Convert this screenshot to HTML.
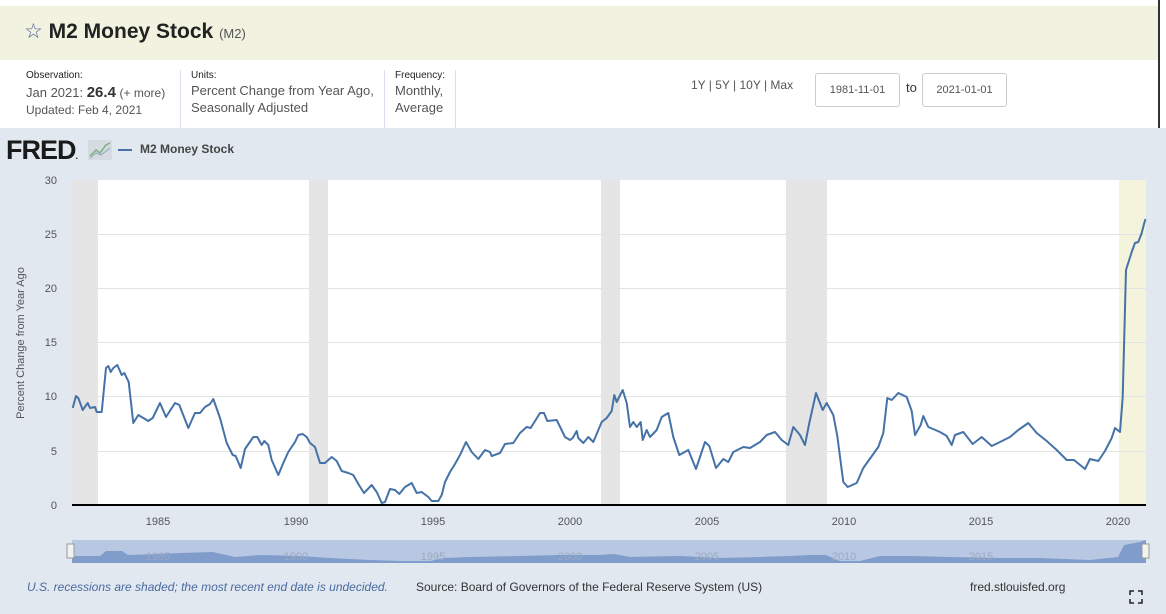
<!DOCTYPE html>
<html><head><meta charset="utf-8"><style>
body{margin:0;width:1166px;height:614px;overflow:hidden;font-family:"Liberation Sans",sans-serif;background:#fff;position:relative}
.a{position:absolute}
</style></head><body>
<div class="a" style="left:0;top:6px;width:1158px;height:54px;background:#f1f2df"></div>
<div class="a" style="left:24px;top:19px;font-size:21px;color:#222"><span style="color:#4a5b9a">☆</span> <b>M2 Money Stock</b> <span style="font-size:13px;color:#555">(M2)</span></div>
<div class="a" style="left:1158px;top:0;width:2px;height:128px;background:#333"></div>
<div class="a" style="left:26px;top:70px;font-size:10px;color:#222">Observation:</div>
<div class="a" style="left:26px;top:84px;font-size:13px;color:#555">Jan 2021: <b style="font-size:15px;color:#333">26.4</b> <span style="font-size:12px">(+ more)</span></div>
<div class="a" style="left:26px;top:103px;font-size:12px;color:#555">Updated: Feb 4, 2021</div>
<div class="a" style="left:180px;top:70px;width:1px;height:58px;background:#dde"></div>
<div class="a" style="left:191px;top:70px;font-size:10px;color:#222">Units:</div>
<div class="a" style="left:191px;top:82px;font-size:13px;color:#555;line-height:17px">Percent Change from Year Ago,<br>Seasonally Adjusted</div>
<div class="a" style="left:384px;top:70px;width:1px;height:58px;background:#dde"></div>
<div class="a" style="left:395px;top:70px;font-size:10px;color:#222">Frequency:</div>
<div class="a" style="left:395px;top:82px;font-size:13px;color:#555;line-height:17px">Monthly,<br>Average</div>
<div class="a" style="left:455px;top:70px;width:1px;height:58px;background:#dde"></div>
<div class="a" style="left:691px;top:78px;font-size:12px;color:#555">1Y | 5Y | 10Y | Max</div>
<div class="a" style="left:815px;top:73px;width:83px;height:32px;border:1px solid #ccc;border-radius:3px;font-size:11px;color:#555;line-height:32px;text-align:center">1981-11-01</div>
<div class="a" style="left:906px;top:80px;font-size:13px;color:#333">to</div>
<div class="a" style="left:922px;top:73px;width:83px;height:32px;border:1px solid #ccc;border-radius:3px;font-size:11px;color:#555;line-height:32px;text-align:center">2021-01-01</div>
<div class="a" style="left:0;top:128px;width:1166px;height:486px;background:#e1e8f0"></div>
<div class="a" style="left:6px;top:135px;font-size:27px;font-weight:bold;color:#1a1a1a;letter-spacing:-1px">FRED<span style="font-size:9px">.</span></div>
<svg class="a" style="left:88px;top:140px" width="24" height="20"><rect width="24" height="20" fill="#d5dbe0"/><polyline points="2,16 8,10 12,13 18,5 22,3" fill="none" stroke="#7cb07f" stroke-width="1.5"/><polyline points="2,18 8,13 13,15 22,8" fill="none" stroke="#8ab" stroke-width="1"/></svg>
<div class="a" style="left:118px;top:149px;width:14px;height:2px;background:#4572a7"></div>
<div class="a" style="left:140px;top:142px;font-size:12px;font-weight:bold;color:#444">M2 Money Stock</div>
<svg class="a" style="left:0;top:0" width="1166" height="614">
<rect x="72" y="180" width="1074" height="325" fill="#fff"/>
<g fill="#e5e5e5"><rect x="72" y="180" width="26" height="325"/><rect x="309" y="180" width="19" height="325"/><rect x="601" y="180" width="19" height="325"/><rect x="786" y="180" width="41" height="325"/></g>
<rect x="1119" y="180" width="27" height="325" fill="#f4f4dc"/>
<g stroke="#e3e3e3" stroke-width="1"><line x1="72" x2="1146" y1="234.5" y2="234.5"/><line x1="72" x2="1146" y1="288.5" y2="288.5"/><line x1="72" x2="1146" y1="342.5" y2="342.5"/><line x1="72" x2="1146" y1="396.5" y2="396.5"/><line x1="72" x2="1146" y1="451.5" y2="451.5"/></g>
<line x1="72" x2="1146" y1="505" y2="505" stroke="#000" stroke-width="2"/>
<g font-size="11" fill="#555" text-anchor="end"><text x="57" y="184">30</text><text x="57" y="238">25</text><text x="57" y="292">20</text><text x="57" y="346">15</text><text x="57" y="400">10</text><text x="57" y="455">5</text><text x="57" y="509">0</text></g>
<g font-size="11" fill="#555" text-anchor="middle"><text x="158" y="525">1985</text><text x="296" y="525">1990</text><text x="433" y="525">1995</text><text x="570" y="525">2000</text><text x="707" y="525">2005</text><text x="844" y="525">2010</text><text x="981" y="525">2015</text><text x="1118" y="525">2020</text></g>
<text transform="translate(24,343) rotate(-90)" font-size="11" fill="#555" text-anchor="middle">Percent Change from Year Ago</text>
<polyline fill="none" stroke="#4572a7" stroke-width="2" stroke-linejoin="round" points="72.7,408 76,396 78.3,398 82.7,410 87.7,403 90,408 95,407 96.7,412 101.7,412 106,368 108.3,366 110.7,372 113.3,368 117.3,365 121.7,375 124.3,373 128.7,382 133.3,423 138.3,415 143.3,418 148.3,421 152.7,418 160,403 166,417 175,403 179.3,405 188.3,428 195,413 200,413 205,407 210,404 213.3,399 220,418 226.7,443 232.7,455 235.7,456 240.7,468 245,449 253.3,437 257.3,437 261.7,445 264.3,441 268.3,445 271.7,460 278.3,475 283.3,463 288.3,452 295,442 298.3,435 302.7,434 306.7,437 310,443 315,447 320,463 325,463 331.7,457 336.7,461 341.7,471 348.3,473 353.3,475 358.3,484 364,493 371.7,485 376.7,492 381.7,503 385,502 390,489 395,490 399.3,494 405,487 411.7,483 416.7,493 421.7,492 428.3,497 431.7,501 438.3,501 441.7,495 445,482 450,472 455,464 460,455 466,442 471.7,452 478.3,459 485,450 490,452 491.7,456 500,453 505,444 513.3,443 520,433 526.7,427 530.7,428 540,413 544,413 547.3,421 556.7,420 565,437 570,440 572.7,438 576.7,431 578.3,438 583.3,443 588.3,437 593.3,442 601.7,422 606.7,418 611.7,411 614.3,395 616.7,402 622.7,390 626.7,403 630,427 633.3,422 636.7,427 640.7,422 642.7,440 646.7,430 650,437 656.7,430 661.7,417 668.3,413 673.3,437 679.3,455 688.3,450 696,469 705,442 709.3,446 716,468 723.3,459 728.3,462 733.3,452 743.3,447 750,448 760,442 766.7,435 775,432 781.7,440 788.3,445 793.3,427 800,435 805,445 809.3,423 816,393 822.7,410 826.7,403 833.3,415 837.3,436 843.3,482 847.7,487 856.7,483 863.3,468 878.3,447 883.3,433 887.3,398 891.7,400 898.3,393 906.7,397 911.7,411 915,435 920.7,425 923.3,416 928.3,427 940,432 946.7,436 951.7,445 955,435 963.3,432 972.7,444 981.7,437 991.7,446 1000,442 1010,437 1018.3,430 1028.3,423 1036.7,433 1046.7,441 1056.7,450 1066.7,460 1074,460 1085,469 1090,459 1098.3,461 1105,451 1111.7,438 1115,428 1120,432 1122.7,397 1126,270 1131.7,252 1135,243 1138.3,242 1141.7,233 1144,224 1145.5,219"/>
<rect x="72" y="540" width="1074" height="23" fill="#b9c8e2"/>
<polygon fill="#7f9ccb" points="72,556 100,556 106,551 122,551 128,555 160,554 180,553 213,552 235,557 260,555 300,556 330,558 370,560 400,561 430,561 445,558 470,557 520,556 560,555 600,555 614,554 630,557 680,556 720,558 760,557 790,556 810,555 826,555 840,561 860,561 880,556 910,556 950,557 1000,558 1040,558 1090,560 1118,557 1124,545 1140,542 1146,540 1146,563 72,563"/>
<g font-size="11" fill="#9aa8c0" text-anchor="middle"><text x="158" y="560">1985</text><text x="296" y="560">1990</text><text x="433" y="560">1995</text><text x="570" y="560">2000</text><text x="707" y="560">2005</text><text x="844" y="560">2010</text><text x="981" y="560">2015</text></g>
<rect x="67" y="544" width="7" height="14" fill="#f2f2f2" stroke="#999"/>
<rect x="1142" y="544" width="7" height="14" fill="#f2f2f2" stroke="#999"/>
<g stroke="#222" stroke-width="1.5" fill="none"><path d="M1130,595v-4h4M1138,591h4v4M1142,599v4h-4M1134,603h-4v-4"/></g>
</svg>
<div class="a" style="left:27px;top:580px;font-size:12px;font-style:italic;color:#4a6aa0">U.S. recessions are shaded; the most recent end date is undecided.</div>
<div class="a" style="left:416px;top:580px;font-size:12px;color:#333">Source: Board of Governors of the Federal Reserve System (US)</div>
<div class="a" style="left:970px;top:580px;font-size:12px;color:#333">fred.stlouisfed.org</div>
</body></html>
